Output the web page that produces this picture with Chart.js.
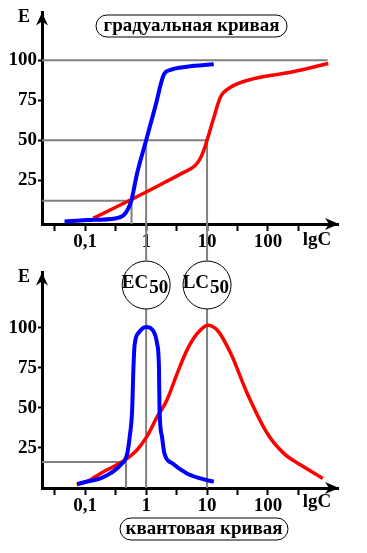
<!DOCTYPE html>
<html>
<head>
<meta charset="utf-8">
<script src="https://cdn.jsdelivr.net/npm/chart.js@4/dist/chart.umd.min.js"></script>
<style>
  body { margin: 0; background: #fff; }
  canvas { position: absolute; left: 0; }
</style>
</head>
<body>
<canvas id="grad" width="367" height="260" style="top:0"></canvas>
<canvas id="quant" width="367" height="293" style="top:260px"></canvas>
<script>
// x axis is lg C, ticks every half decade, labels only on whole decades
const xTicks = [-1.5, -1, -0.5, 0, 0.5, 1, 1.5, 2, 2.5];
const xTickLabels = { "-1": "0,1", "0": "1", "1": "10", "2": "100" };
const yTicks = [25, 50, 75, 100];

// gradual curve (top)
const gradBlueX = [-1.34, -0.98, -0.51, -0.37, -0.29, -0.24, -0.15, 0, 0.15, 0.29, 0.40, 0.67, 1.11];
const gradBlueE = [-1, 0, 1, 3, 7.5, 12.5, 29, 50, 71, 91, 94, 96, 97.5];
const gradRedX = [-0.87, -0.26, 0, 0.3, 0.6, 0.8, 0.88, 0.94, 1.0, 1.11, 1.22, 1.38, 1.77, 2.37, 2.99];
const gradRedE = [1, 12.5, 17.5, 23.5, 29.5, 34, 38, 43, 50, 64, 77, 83, 88.5, 92.5, 98];

// quantal curve (bottom)
const quantBlueX = [-1.13, -0.98, -0.75, -0.59, -0.42, -0.31, -0.27, -0.23, -0.21, -0.19, -0.12, 0, 0.11, 0.18, 0.21, 0.22, 0.26, 0.30, 0.43, 0.67, 0.89, 1.11];
const quantBlueE = [2.5, 3.9, 6, 9.1, 14.3, 21.6, 32, 48.6, 73.5, 89, 97, 100.5, 98.4, 90, 75.6, 48.6, 32, 21.6, 15.4, 9.1, 6, 3.9];
const quantRedX = [-1.14, -0.92, -0.75, -0.54, -0.31, -0.15, 0.01, 0.18, 0.34, 0.51, 0.67, 0.84, 1.01, 1.17, 1.39, 1.66, 1.99, 2.26, 2.54, 2.90];
const quantRedE = [1.9, 5, 9.1, 13.3, 18.5, 23.7, 32, 44.4, 54.8, 71.5, 86, 96.4, 101.6, 98.4, 83.9, 59, 34, 21.6, 14.3, 6];

// grey guide lines
const gradGuide100X = [-1.71, 2.98];
const gradGuide100E = [100, 100];
const gradGuide50X = [-1.71, 1, 1];
const gradGuide50E = [50, 50, -25];
const gradGuideEC50X = [0, 0];
const gradGuideEC50E = [50, -25];
const gradGuideCrossX = [-1.71, -0.24, -0.24];
const gradGuideCrossE = [12, 12, -2.5];

const quantGuideEC50X = [0, 0];
const quantGuideEC50E = [142, 0];
const quantGuideLC50X = [1, 1];
const quantGuideLC50E = [142, 0];
const quantGuideCrossX = [-1.71, -0.33, -0.33];
const quantGuideCrossE = [16.2, 16.2, 0];

const pts = (xs, ys) => xs.map((x, i) => ({ x: x, y: ys[i] }));

const SERIF = "'Liberation Serif', 'DejaVu Serif', serif";

function curve(xs, ys, color, w) {
  return {
    data: pts(xs, ys), borderColor: color, borderWidth: w,
    pointRadius: 0, cubicInterpolationMode: 'monotone', fill: false, order: 1
  };
}
function guide(xs, ys) {
  return {
    data: pts(xs, ys), borderColor: '#808080', borderWidth: 2,
    pointRadius: 0, tension: 0, fill: false, order: 2, clip: false
  };
}

function roundBox(ctx, x, y, w, h, r) {
  ctx.beginPath();
  ctx.moveTo(x + r, y);
  ctx.arcTo(x + w, y, x + w, y + h, r);
  ctx.arcTo(x + w, y + h, x, y + h, r);
  ctx.arcTo(x, y + h, x, y, r);
  ctx.arcTo(x, y, x + w, y, r);
  ctx.closePath();
}

// axis arrows, axis names, boxed titles, circle labels
const decorPlugin = {
  id: 'decor',
  afterDraw(chart) {
    const ctx = chart.ctx;
    const a = chart.chartArea;
    const o = chart.options.plugins.decor;
    ctx.save();
    ctx.fillStyle = '#000';
    // y arrow
    ctx.beginPath();
    ctx.moveTo(a.left, a.top);
    ctx.lineTo(a.left - 6, a.top + 13);
    ctx.lineTo(a.left, a.top + 9);
    ctx.lineTo(a.left + 6, a.top + 13);
    ctx.closePath();
    ctx.fill();
    // x arrow
    ctx.beginPath();
    ctx.moveTo(a.right + 1, a.bottom);
    ctx.lineTo(a.right - 13, a.bottom - 6);
    ctx.lineTo(a.right - 9, a.bottom);
    ctx.lineTo(a.right - 13, a.bottom + 6);
    ctx.closePath();
    ctx.fill();

    ctx.font = 'bold 18px ' + SERIF;
    ctx.textBaseline = 'middle';
    ctx.textAlign = 'center';
    ctx.fillText('E', 24, a.top + 5);
    ctx.font = 'bold 19px ' + SERIF;
    ctx.fillText('lgC', 317, a.bottom + o.lgcOffset);

    // boxed title
    const t = o.title;
    ctx.fillStyle = '#fff';
    roundBox(ctx, t.x, t.y, t.w, 22, 11);
    ctx.fill();
    ctx.lineWidth = 1;
    ctx.strokeStyle = '#000';
    ctx.stroke();
    ctx.fillStyle = '#000';
    ctx.font = 'bold 19px ' + SERIF;
    ctx.fillText(t.text, t.x + t.w / 2, t.y + 11);

    // EC50 / LC50 circles
    if (o.circles) {
      const xs = chart.scales.x;
      o.circles.forEach(c => {
        const cx = xs.getPixelForValue(c.at);
        const cy = 25;
        ctx.beginPath();
        ctx.arc(cx, cy, 24, 0, Math.PI * 2);
        ctx.fillStyle = '#fff';
        ctx.fill();
        ctx.strokeStyle = '#000';
        ctx.lineWidth = 1;
        ctx.stroke();
        ctx.fillStyle = '#000';
        ctx.font = 'bold 19px ' + SERIF;
        ctx.textAlign = 'right';
        ctx.fillText(c.name, cx + 2, cy - 2);
        ctx.textAlign = 'left';
        ctx.fillText('50', cx + 3, cy + 3);
      });
    }
    ctx.restore();
  }
};

function makeOptions(yMin, yMax, xHeight, decor) {
  return {
    responsive: false,
    animation: false,
    layout: { padding: { top: 12, right: 29, left: 0, bottom: 0 } },
    plugins: { legend: { display: false }, tooltip: { enabled: false }, decor: decor },
    scales: {
      x: {
        type: 'linear', min: -1.71, max: 3.15, z: 1,
        afterBuildTicks: s => { s.ticks = xTicks.map(v => ({ value: v })); },
        afterFit: s => { s.height = xHeight; },
        border: { display: true, width: 3, color: '#000' },
        grid: { drawOnChartArea: false, drawTicks: true, tickLength: 7, tickWidth: 2, color: '#000' },
        ticks: {
          autoSkip: false, maxRotation: 0, padding: 0, color: '#000',
          font: { family: SERIF, size: 19, weight: 'bold' },
          callback: v => xTickLabels[String(v)] || ''
        }
      },
      y: {
        type: 'linear', min: yMin, max: yMax,
        afterBuildTicks: s => { s.ticks = yTicks.map(v => ({ value: v })); },
        afterFit: s => { s.width = 42; },
        border: { display: true, width: 3, color: '#000' },
        grid: { drawOnChartArea: false, drawTicks: true, tickLength: 4, tickWidth: 2, color: '#000' },
        ticks: {
          padding: 1, color: '#000',
          font: { family: SERIF, size: 19, weight: 'bold' }
        }
      }
    }
  };
}

new Chart(document.getElementById('grad'), {
  type: 'line',
  data: {
    datasets: [
      curve(gradBlueX, gradBlueE, '#0000ff', 4),
      curve(gradRedX, gradRedE, '#ff0000', 3.5),
      guide(gradGuide100X, gradGuide100E),
      guide(gradGuide50X, gradGuide50E),
      guide(gradGuideEC50X, gradGuideEC50E),
      guide(gradGuideCrossX, gradGuideCrossE)
    ]
  },
  options: makeOptions(-2.5, 130, 36, {
    lgcOffset: 16,
    title: { text: 'градуальная кривая', x: 96, y: 15, w: 191 }
  }),
  plugins: [decorPlugin]
});

new Chart(document.getElementById('quant'), {
  type: 'line',
  data: {
    datasets: [
      curve(quantBlueX, quantBlueE, '#0000ff', 4),
      curve(quantRedX, quantRedE, '#ff0000', 3.5),
      guide(quantGuideEC50X, quantGuideEC50E),
      guide(quantGuideLC50X, quantGuideLC50E),
      guide(quantGuideCrossX, quantGuideCrossE)
    ]
  },
  options: makeOptions(0, 134.5, 65, {
    lgcOffset: 14,
    title: { text: 'квантовая кривая', x: 120, y: 258, w: 168 },
    circles: [{ name: 'EC', at: 0 }, { name: 'LC', at: 1 }]
  }),
  plugins: [decorPlugin]
});
</script>
</body>
</html>
